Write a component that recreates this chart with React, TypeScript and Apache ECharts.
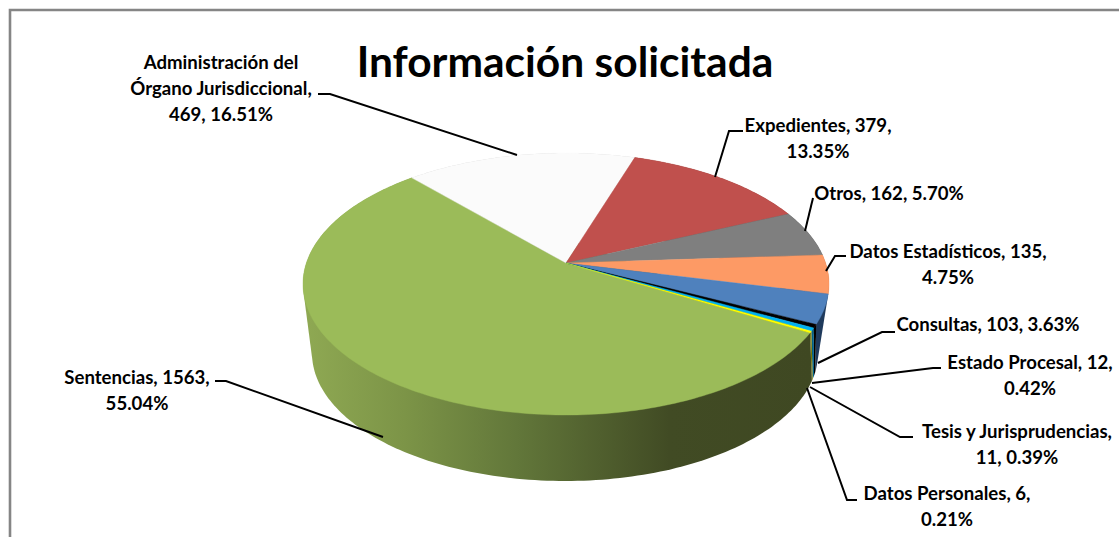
import React, { useEffect, useRef } from "react";
import * as echarts from "echarts";

const names = ["Sentencias", "Administración del Órgano Jurisdiccional", "Expedientes", "Otros", "Datos Estadísticos", "Consultas", "Estado Procesal", "Tesis y Jurisprudencias", "Datos Personales"];
const values = [1563, 469, 379, 162, 135, 103, 12, 11, 6];
const topColors = ["#9BBB59", "#FBFBFB", "#C0504D", "#7F7F7F", "#FD9A65", "#4F81BD", "#000000", "#00B0F0", "#FFFF00"];
const wallColors = ["#5E7136", "#BDBDBD", "#772C2A", "#4D4D4D", "#B0602F", "#1F3A5C", "#000000", "#005F85", "#7A7A00"];

// layout: label lines and leader geometry
const labelLines: string[][] = [
  ["Sentencias, 1563,", "55.04%"],
  ["Administración del", "Órgano Jurisdiccional,", "469, 16.51%"],
  ["Expedientes, 379,", "13.35%"],
  ["Otros, 162, 5.70%"],
  ["Datos Estadísticos, 135,", "4.75%"],
  ["Consultas, 103, 3.63%"],
  ["Estado Procesal, 12,", "0.42%"],
  ["Tesis y Jurisprudencias,", "11, 0.39%"],
  ["Datos Personales, 6,", "0.21%"],
];
const labelPos = [[137, 377], [221, 62], [818, 125], [889, 193], [948, 251], [988, 324], [1030, 362], [1017, 431], [947, 493]];
const leaders = [
  [[215, 381], [226, 381], [383, 437]],
  [[318, 94], [330, 94], [517, 155]],
  [[743, 131], [729, 131], [715, 177]],
  [[813, 198], [805, 231]],
  [[846, 256], [835, 256], [826, 271]],
  [[895, 332], [882, 332], [818, 363]],
  [[941, 368], [933, 368], [812, 383]],
  [[913, 437], [900, 437], [810, 387]],
  [[857, 500], [847, 500], [807, 388]],
];

const START_ANGLE = 120.2;
const FONT = "Lato, sans-serif";
const TOP = { cx: 566, cy: 284, rx: 263, ry: 131, a: -0.16 };
const BOTTOM = { cx: 565, cy: 353, rx: 253, ry: 128, a: -0.32 };

const project = (deg: number, e: typeof TOP) => {
  const t = (deg * Math.PI) / 180;
  const u0 = Math.sin(t);
  const v0 = -Math.cos(t);
  const d = 1 + e.a * v0;
  return [e.cx + (e.rx * u0 * Math.sqrt(1 - e.a * e.a)) / d, e.cy + (e.ry * (v0 + e.a)) / d];
};
const total = values.reduce((s, v) => s + v, 0);
const spanOf = (i: number) => {
  let start = START_ANGLE;
  for (let k = 0; k < i; k++) start += (values[k] / total) * 360;
  return [start, start + (values[i] / total) * 360];
};
const arc = (a: number, b: number, e: typeof TOP) => {
  const n = Math.max(2, Math.ceil(Math.abs(b - a)));
  const out: number[][] = [];
  for (let k = 0; k <= n; k++) out.push(project(a + ((b - a) * k) / n, e));
  return out;
};
const hull = (input: number[][]) => {
  const p = [...input].sort((m, n) => m[0] - n[0] || m[1] - n[1]);
  const cross = (o: number[], m: number[], n: number[]) => (m[0] - o[0]) * (n[1] - o[1]) - (m[1] - o[1]) * (n[0] - o[0]);
  const build = (list: number[][]) => {
    const out: number[][] = [];
    for (const q of list) {
      while (out.length >= 2 && cross(out[out.length - 2], out[out.length - 1], q) <= 0) out.pop();
      out.push(q);
    }
    out.pop();
    return out;
  };
  return [...build(p), ...build([...p].reverse())];
};

export default function App() {
  const ref = useRef<HTMLDivElement>(null);
  useEffect(() => {
    document.body.style.margin = "0";
    document.body.style.background = "#fff";
    const chart = echarts.init(ref.current!, null, { renderer: "svg" });
    const wallFill = (i: number) =>
      i === 0
        ? new echarts.graphic.LinearGradient(0, 0, 1, 0, [
            { offset: 0, color: "#8FA953" },
            { offset: 0.2, color: "#7C9447" },
            { offset: 0.42, color: "#62773A" },
            { offset: 0.72, color: "#414B24" },
            { offset: 1, color: "#3F4822" },
          ])
        : wallColors[i];
    const data = values.map((v, i) => ({ name: names[i], value: v }));
    const wallOrder = [1, 2, 3, 4, 5, 6, 7, 8, 0];
    const graphics: any[] = [
      { type: "rect", z: 0, shape: { x: 10, y: 10, width: 1300, height: 800 }, style: { fill: "#fff", stroke: "#858585", lineWidth: 2.6 } },
    ];
    leaders.forEach((pts) =>
      graphics.push({ type: "polyline", z: 20, shape: { points: pts }, style: { stroke: "#000", lineWidth: 2, fill: "none" } })
    );
    labelLines.forEach((lines, i) =>
      lines.forEach((line, j) =>
        graphics.push({
          type: "text",
          z: 21,
          x: labelPos[i][0],
          y: labelPos[i][1] + j * 26,
          style: { text: line, fill: "#000", font: `bold 18.6px ${FONT}`, align: "center", verticalAlign: "middle" },
        })
      )
    );
    chart.setOption({
      animation: false,
      backgroundColor: "#fff",
      title: {
        text: "Información solicitada",
        left: 565,
        top: 34,
        textAlign: "center",
        textStyle: { fontFamily: FONT, fontWeight: "bold", fontSize: 42.5, color: "#000" },
      },
      graphic: graphics,
      series: [
        {
          type: "custom",
          coordinateSystem: "none",
          z: 5,
          silent: true,
          data: wallOrder.map((i) => data[i]),
          renderItem: (p: any) => {
            const i = wallOrder[p.dataIndex];
            const [a, b] = spanOf(i);
            const pts = hull([...arc(a, b, TOP), ...arc(b, a, BOTTOM)]);
            return { type: "polygon", shape: { points: pts }, style: { fill: wallFill(i) } };
          },
        },
        {
          type: "custom",
          coordinateSystem: "none",
          z: 6,
          silent: true,
          data,
          renderItem: (p: any) => {
            const i = p.dataIndex;
            const [a, b] = spanOf(i);
            const apex = [TOP.cx, TOP.cy + TOP.ry * TOP.a];
            return {
              type: "polygon",
              shape: { points: [apex, ...arc(a, b, TOP)] },
              style: { fill: topColors[i], stroke: topColors[i], lineWidth: 0.4 },
            };
          },
        },
      ],
    });
    chart.setOption({ title: { left: 560 } });
    return () => chart.dispose();
  }, []);
  return <div ref={ref} style={{ width: 1119, height: 537 }} />;
}
